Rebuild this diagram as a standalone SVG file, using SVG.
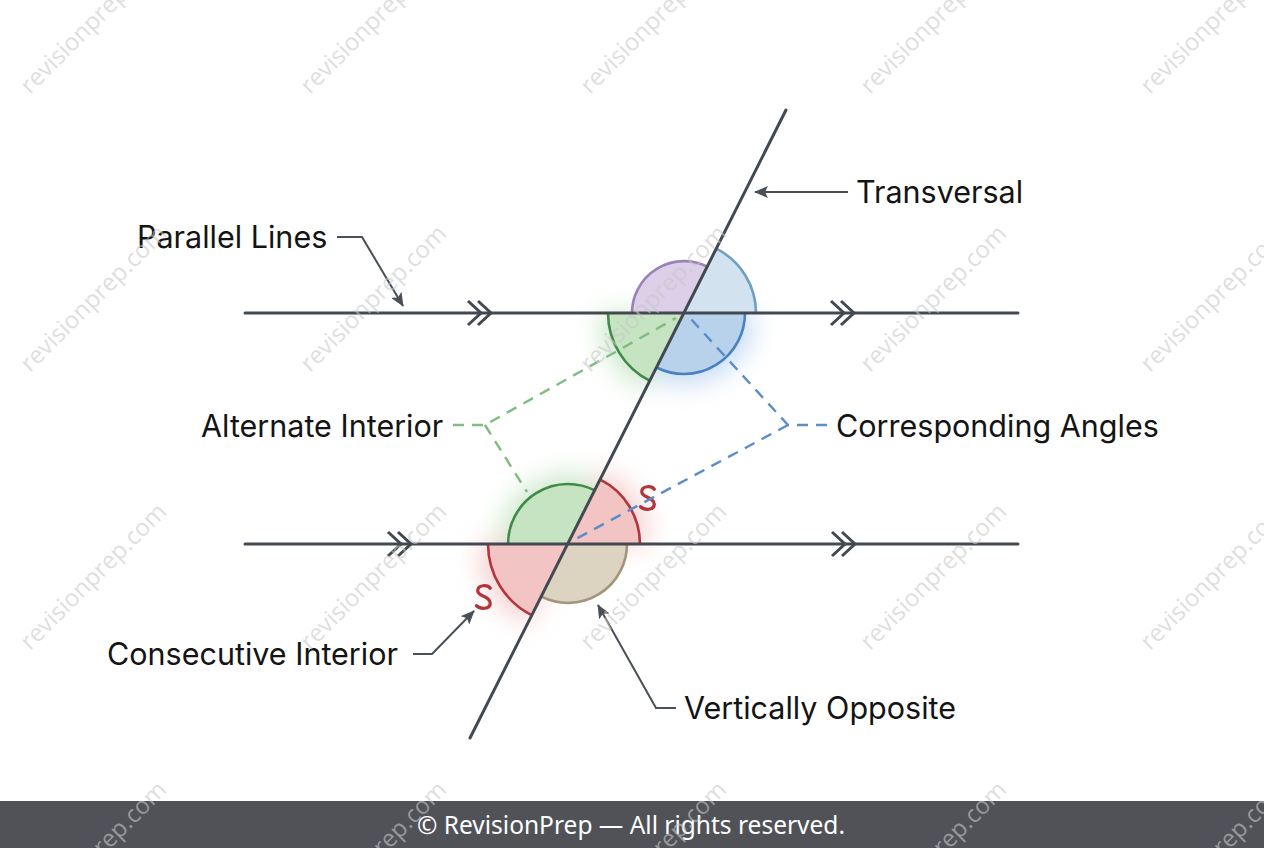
<svg xmlns="http://www.w3.org/2000/svg" width="1264" height="848" viewBox="0 0 1264 848">
  <defs>
    <style>
      .lbl { font-family: Inter, "Noto Sans", "Liberation Sans", sans-serif; font-size: 30.5px; fill: #141414; }
      .main { stroke: #434951; stroke-width: 3; fill: none; stroke-linecap: round; }
      .chev { stroke: #434951; stroke-width: 3; fill: none; stroke-linejoin: miter; }
      .lead { stroke: #4a5058; stroke-width: 2; fill: none; }
      .dg { stroke: #7dbd7f; stroke-width: 2.4; fill: none; stroke-dasharray: 11 8; }
      .db { stroke: #5b8dc7; stroke-width: 2.4; fill: none; stroke-dasharray: 11 8; }
      .arc { fill: none; stroke-width: 2.6; }
      .wm { font-family: "Open Sans", "Noto Sans", sans-serif; font-size: 24px; fill: #c8c8c8; fill-opacity: 0.6; }
      .smark { fill: none; stroke: #b3343a; stroke-width: 2.6; stroke-linecap: round; }
    </style>
    <filter id="glow" x="-50%" y="-50%" width="200%" height="200%">
      <feGaussianBlur stdDeviation="13"/>
    </filter>
    <marker id="ah" markerUnits="userSpaceOnUse" markerWidth="14" markerHeight="12" viewBox="0 0 14 12" refX="13" refY="6" orient="auto">
      <path d="M0,0 L14,6 L0,12 L3,6 Z" fill="#4a5058"/>
    </marker>
  </defs>

  <rect width="1264" height="848" fill="#ffffff"/>

  <!-- glows -->
  <g id="glows" filter="url(#glow)" opacity="0.55">
    <path d="M684,313 L645.4,390.7 A86,86 0 0 1 598,313 Z" fill="#a6d6a2"/>
    <path d="M684,313 L755,313 A71,71 0 0 1 652.1,376.4 Z" fill="#94bde8"/>
    <path d="M568,544 L498,544 A70,70 0 0 1 599.4,481.5 Z" fill="#a6d6a2"/>
    <path d="M568,544 L604.8,470.8 A82,82 0 0 1 650,544 Z" fill="#f0a8a8"/>
    <path d="M568,544 L527.6,624.4 A90,90 0 0 1 478,544 Z" fill="#f0a8a8"/>
  </g>

  <!-- upper intersection angles -->
  <g id="angle-purple">
    <path d="M684,313 L632,313 A52,52 0 0 1 707.3,266.6 Z" fill="#dccfe8"/>
    <path d="M632,313 A52,52 0 0 1 707.3,266.6" class="arc" stroke="#9a82b9"/>
  </g>
  <g id="angle-lightblue">
    <path d="M684,313 L716.3,248.7 A72,72 0 0 1 756,313 Z" fill="#d2e3ef"/>
    <path d="M716.3,248.7 A72,72 0 0 1 756,313" class="arc" stroke="#6f9fc2"/>
  </g>
  <g id="angle-blue">
    <path d="M684,313 L745,313 A61,61 0 0 1 656.6,367.5 Z" fill="#b9d2ec"/>
    <path d="M745,313 A61,61 0 0 1 656.6,367.5" class="arc" stroke="#4a80c2"/>
  </g>
  <g id="angle-green-upper">
    <path d="M684,313 L649.9,380.9 A76,76 0 0 1 608,313 Z" fill="#c6e3c2"/>
    <path d="M649.9,380.9 A76,76 0 0 1 608,313" class="arc" stroke="#3f8b46"/>
  </g>

  <!-- lower intersection angles -->
  <g id="angle-green-lower">
    <path d="M568,544 L508,544 A60,60 0 0 1 594.9,490.4 Z" fill="#c6e3c2"/>
    <path d="M508,544 A60,60 0 0 1 594.9,490.4" class="arc" stroke="#3f8b46"/>
  </g>
  <g id="angle-red-upper">
    <path d="M568,544 L600.3,479.7 A72,72 0 0 1 640,544 Z" fill="#f3c4c4"/>
    <path d="M600.3,479.7 A72,72 0 0 1 640,544" class="arc" stroke="#b3343a"/>
  </g>
  <g id="angle-tan">
    <path d="M568,544 L627,544 A59,59 0 0 1 541.5,596.7 Z" fill="#dcd3c1"/>
    <path d="M627,544 A59,59 0 0 1 541.5,596.7" class="arc" stroke="#a1967c"/>
  </g>
  <g id="angle-red-lower">
    <path d="M568,544 L532.1,615.4 A80,80 0 0 1 488,544 Z" fill="#f3c4c4"/>
    <path d="M532.1,615.4 A80,80 0 0 1 488,544" class="arc" stroke="#b3343a"/>
  </g>

  <!-- S marks -->
  <g id="s-marks">
    <path class="smark" transform="translate(648,498) scale(1.25)" d="M5,-7 C3,-10 -5,-10 -5,-5 C-5,0 5,-1 5,5 C5,10 -3,10 -6,7"/>
    <path class="smark" transform="translate(484,597) scale(1.25)" d="M5,-7 C3,-10 -5,-10 -5,-5 C-5,0 5,-1 5,5 C5,10 -3,10 -6,7"/>
  </g>

  <!-- connectors -->
  <g id="connectors">
    <path class="dg" d="M453,425 L485,425 L676,318"/>
    <path class="dg" d="M485,425 L527,492"/>
    <path class="db" d="M827,425 L788,425 L690,318"/>
    <path class="db" d="M788,425 L572,541"/>
    <path class="lead" d="M848,192 L755,192" marker-end="url(#ah)"/>
    <path class="lead" d="M337,237 L362,237 L403,306" marker-end="url(#ah)"/>
    <path class="lead" d="M413,654 L432,654 L474,611" marker-end="url(#ah)"/>
    <path class="lead" d="M676,708 L656,708 L598,605" marker-end="url(#ah)"/>
  </g>

  <!-- main lines -->
  <g id="lines">
    <line class="main" x1="245" y1="313" x2="1018" y2="313"/>
    <line class="main" x1="245" y1="544" x2="1018" y2="544"/>
    <line class="main" x1="786" y1="110" x2="470" y2="738"/>
    <path class="chev" d="M468,301 L481,313 L468,325 M478,301 L491,313 L478,325"/>
    <path class="chev" d="M831,301 L844,313 L831,325 M841,301 L854,313 L841,325"/>
    <path class="chev" d="M388,532 L401,544 L388,556 M398,532 L411,544 L398,556"/>
    <path class="chev" d="M832,532 L845,544 L832,556 M842,532 L855,544 L842,556"/>
  </g>

  <!-- labels -->
  <g id="label-transversal"><text class="lbl" x="856" y="203">Transversal</text></g>
  <g id="label-parallel"><text class="lbl" x="137" y="248">Parallel Lines</text></g>
  <g id="label-alternate"><text class="lbl" x="201" y="437">Alternate Interior</text></g>
  <g id="label-corresponding"><text class="lbl" x="836" y="437">Corresponding Angles</text></g>
  <g id="label-consecutive"><text class="lbl" x="107" y="665">Consecutive Interior</text></g>
  <g id="label-vertical"><text class="lbl" x="684" y="719">Vertically Opposite</text></g>

  <!-- footer -->
  <g id="footer">
    <rect x="0" y="801" width="1264" height="47" fill="#505258"/>
    <text x="631" y="834" text-anchor="middle" font-family="'Noto Sans', 'Open Sans', sans-serif" font-size="24.5" fill="#ffffff">© RevisionPrep — All rights reserved.</text>
  </g>

  <!-- watermark -->
  <g id="watermark">
    <text class="wm" transform="translate(30,95) rotate(-45)">revisionprep.com</text>
    <text class="wm" transform="translate(310,95) rotate(-45)">revisionprep.com</text>
    <text class="wm" transform="translate(590,95) rotate(-45)">revisionprep.com</text>
    <text class="wm" transform="translate(870,95) rotate(-45)">revisionprep.com</text>
    <text class="wm" transform="translate(1150,95) rotate(-45)">revisionprep.com</text>
    <text class="wm" transform="translate(30,373) rotate(-45)">revisionprep.com</text>
    <text class="wm" transform="translate(310,373) rotate(-45)">revisionprep.com</text>
    <text class="wm" transform="translate(590,373) rotate(-45)">revisionprep.com</text>
    <text class="wm" transform="translate(870,373) rotate(-45)">revisionprep.com</text>
    <text class="wm" transform="translate(1150,373) rotate(-45)">revisionprep.com</text>
    <text class="wm" transform="translate(30,651) rotate(-45)">revisionprep.com</text>
    <text class="wm" transform="translate(310,651) rotate(-45)">revisionprep.com</text>
    <text class="wm" transform="translate(590,651) rotate(-45)">revisionprep.com</text>
    <text class="wm" transform="translate(870,651) rotate(-45)">revisionprep.com</text>
    <text class="wm" transform="translate(1150,651) rotate(-45)">revisionprep.com</text>
    <text class="wm" transform="translate(30,929) rotate(-45)">revisionprep.com</text>
    <text class="wm" transform="translate(310,929) rotate(-45)">revisionprep.com</text>
    <text class="wm" transform="translate(590,929) rotate(-45)">revisionprep.com</text>
    <text class="wm" transform="translate(870,929) rotate(-45)">revisionprep.com</text>
    <text class="wm" transform="translate(1150,929) rotate(-45)">revisionprep.com</text>
  </g>
</svg>
